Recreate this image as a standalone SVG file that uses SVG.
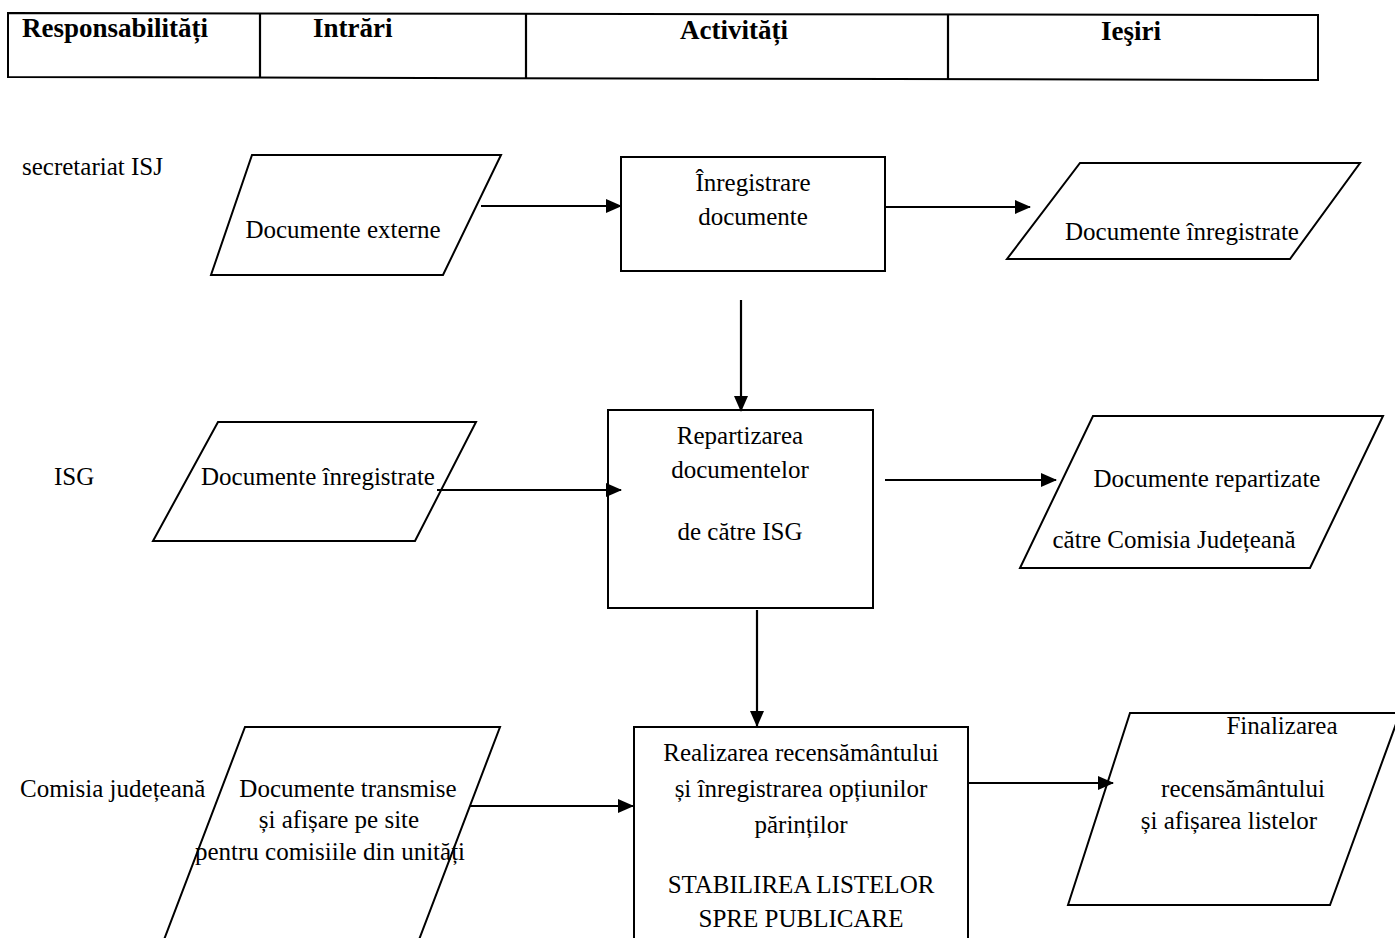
<svg xmlns="http://www.w3.org/2000/svg" width="1395" height="938" viewBox="0 0 1395 938">
<defs>
<marker id="ah" markerUnits="userSpaceOnUse" markerWidth="16" markerHeight="14" refX="15" refY="7" orient="auto">
<path d="M0,0 L16,7 L0,14 Z" fill="#000"/>
</marker>
<style>
.sh{fill:#fff;stroke:#000;stroke-width:2}
.t{font-family:"Liberation Serif","Times New Roman",serif;font-size:25px;fill:#000}
.c{text-anchor:middle}
.h{font-family:"Liberation Serif","Times New Roman",serif;font-size:27px;font-weight:bold;fill:#000}
.ln{stroke:#000;stroke-width:2.2;fill:none}
</style>
</defs>
<rect width="1395" height="938" fill="#fff"/>
<g id="header">
<polygon class="sh" points="8,13 1318,15 1318,80 8,77"/>
<line class="ln" x1="260" y1="13" x2="260" y2="77"/>
<line class="ln" x1="526" y1="14" x2="526" y2="78"/>
<line class="ln" x1="948" y1="14" x2="948" y2="79"/>
<text class="h" x="22" y="37">Responsabilități</text>
<text class="h" x="313" y="37">Intrări</text>
<text class="h" x="680" y="39">Activități</text>
<text class="h" x="1101" y="40">Ieşiri</text>
</g>
<g id="lanes">
<text class="t" x="22" y="175">secretariat ISJ</text>
<text class="t" x="54" y="485">ISG</text>
<text class="t" x="20" y="797">Comisia județeană</text>
</g>
<g id="n-doc-externe">
<polygon class="sh" points="252,155 501,155 443,275 211,275"/>
<text class="t c" x="343" y="238">Documente externe</text>
</g>
<g id="n-inregistrare">
<rect class="sh" x="621" y="157" width="264" height="114"/>
<text class="t c" x="753" y="191">Înregistrare</text>
<text class="t c" x="753" y="225">documente</text>
</g>
<g id="n-doc-inregistrate-out">
<polygon class="sh" points="1080,163 1360,163 1290,259 1007,259"/>
<text class="t c" x="1182" y="240">Documente înregistrate</text>
</g>
<g id="n-doc-inregistrate-in">
<polygon class="sh" points="218,422 476,422 415,541 153,541"/>
<text class="t c" x="318" y="485">Documente înregistrate</text>
</g>
<g id="n-repartizarea">
<rect class="sh" x="608" y="410" width="265" height="198"/>
<text class="t c" x="740" y="444">Repartizarea</text>
<text class="t c" x="740" y="478">documentelor</text>
<text class="t c" x="740" y="540">de către ISG</text>
</g>
<g id="n-doc-repartizate">
<polygon class="sh" points="1093,416 1383,416 1310,568 1020,568"/>
<text class="t c" x="1207" y="487">Documente repartizate</text>
<text class="t c" x="1174" y="548">către Comisia Județeană</text>
</g>
<g id="n-doc-transmise">
<polygon class="sh" points="245,727 500,727 417,945 162,945"/>
<text class="t c" x="348" y="797">Documente transmise</text>
<text class="t c" x="339" y="828">și afișare pe site</text>
<text class="t c" x="330" y="860">pentru comisiile din unități</text>
</g>
<g id="n-realizarea">
<rect class="sh" x="634" y="727" width="334" height="220"/>
<text class="t c" x="801" y="761">Realizarea recensământului</text>
<text class="t c" x="801" y="797">și înregistrarea opțiunilor</text>
<text class="t c" x="801" y="833">părinților</text>
<text class="t c" x="801" y="893">STABILIREA LISTELOR</text>
<text class="t c" x="801" y="927">SPRE PUBLICARE</text>
</g>
<g id="n-finalizarea">
<polygon class="sh" points="1130,713 1400,713 1330,905 1068,905"/>
<text class="t c" x="1282" y="734">Finalizarea</text>
<text class="t c" x="1243" y="797">recensământului</text>
<text class="t c" x="1229" y="829">și afișarea listelor</text>
</g>
<g id="connectors">
<line class="ln" x1="481" y1="206" x2="621" y2="206" marker-end="url(#ah)"/>
<line class="ln" x1="885" y1="207" x2="1030" y2="207" marker-end="url(#ah)"/>
<line class="ln" x1="741" y1="300" x2="741" y2="411" marker-end="url(#ah)"/>
<line class="ln" x1="437" y1="490" x2="621" y2="490" marker-end="url(#ah)"/>
<line class="ln" x1="885" y1="480" x2="1056" y2="480" marker-end="url(#ah)"/>
<line class="ln" x1="757" y1="610" x2="757" y2="726" marker-end="url(#ah)"/>
<line class="ln" x1="470" y1="806" x2="633" y2="806" marker-end="url(#ah)"/>
<line class="ln" x1="968" y1="783" x2="1113" y2="783" marker-end="url(#ah)"/>
</g>
</svg>
